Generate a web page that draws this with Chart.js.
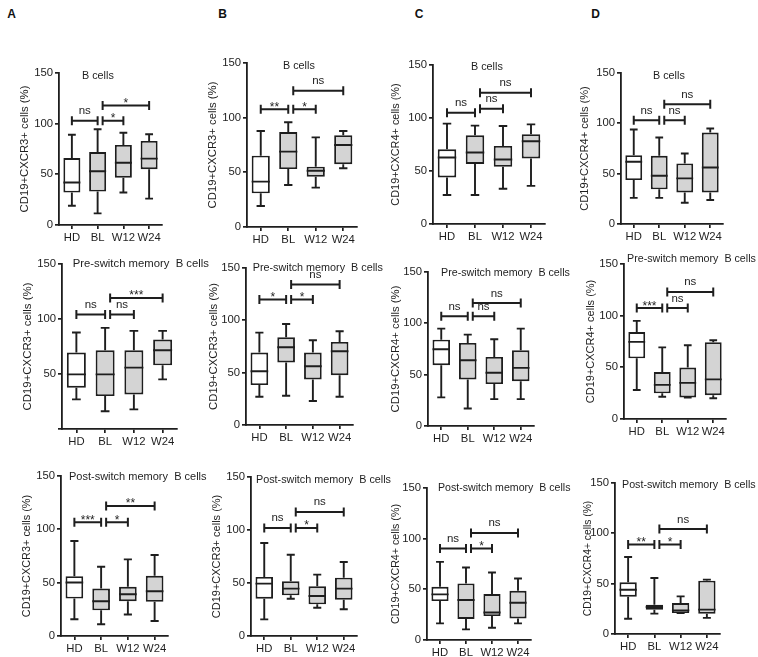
<!DOCTYPE html>
<html><head><meta charset="utf-8">
<script src="https://cdn.jsdelivr.net/npm/chart.js@4.4.1/dist/chart.umd.min.js"></script>
<style>
html,body{margin:0;padding:0;background:#fff;}
#wrap{position:relative;width:758px;height:657px;overflow:hidden;background:#fff;}
#wrap canvas{position:absolute;}
.lt{position:absolute;font:bold 12px 'Liberation Sans',Arial,sans-serif;color:#111;transform:translate(-50%,-50%);}
</style></head><body><div id="wrap"></div>
<script>
const categories = ['HD', 'BL', 'W12', 'W24'];
const yTickValues = [0, 50, 100, 150];

// five-number summaries per group: [min, q1, median, q3, max]
const boxA1 = [[19, 32, 42, 66, 89], [11.5, 33, 53, 72, 94.5], [32, 46.7, 61.5, 79, 91], [26, 55, 65.5, 83, 89.5]];
const boxB1 = [[19.2, 30.8, 41.5, 65.2, 87.8], [38.4, 53, 68.9, 86.9, 95.8], [36, 46, 51.5, 55.2, 82], [53.7, 57.4, 75, 84, 87.8]];
const boxC1 = [[27.3, 43.9, 62.7, 70.5, 94.7], [27.3, 56.7, 67.4, 83.7, 92.8], [33.2, 53.9, 60.8, 73.7, 92.5], [36, 61.8, 78, 84.7, 94]];
const boxD1 = [[26, 43.6, 61.8, 68.4, 93.8], [26, 34.4, 47.9, 67.7, 86], [21.1, 31.4, 45.3, 60.2, 70], [23.8, 31.4, 56.2, 90.9, 94.8]];
const boxA2 = [[26.9, 37.6, 49.7, 69.5, 87.7], [16.2, 29.9, 49.7, 71.6, 91.9], [17.8, 31.4, 55.8, 71.6, 89.2], [45.1, 57.9, 71.6, 81.3, 89.2]];
const boxB2 = [[27, 38.1, 51.4, 69.2, 88.3], [27.9, 59.7, 74.3, 83.8, 96.5], [22.9, 43.5, 56.2, 69.2, 81], [27, 47.6, 70.5, 79.4, 89.5]];
const boxC2 = [[27.9, 59.2, 74.8, 84.1, 94.8], [17, 45.3, 64.1, 80.9, 89], [26.2, 40.8, 51.8, 67.3, 84.5], [26.2, 43.7, 56.6, 73.8, 94.8]];
const boxD2 = [[28, 58.7, 74.6, 84.2, 95], [21.5, 24.8, 33, 45.5, 69.3], [20.8, 20.8, 35, 49.8, 71.3], [20.1, 23.1, 38.3, 74.3, 76.2]];
const boxA3 = [[15.7, 35.1, 50.2, 56.1, 89], [11, 24.1, 32.6, 44.5, 64.9], [20.1, 32.6, 39.2, 46.1, 71.8], [14.1, 32, 42, 56.4, 75.9]];
const boxB3 = [[15.7, 35.2, 49.4, 55.7, 87.7], [35.2, 38.4, 44.7, 51.6, 76.7], [26.7, 29.9, 37.7, 46.9, 57.9], [25.2, 34.3, 44.7, 55, 69.8]];
const boxC3 = [[16.4, 38.4, 45, 52.5, 77.1], [10.5, 20.7, 39.4, 55.8, 71.5], [12.1, 23.6, 27.2, 45.3, 66.6], [16.4, 21.3, 36.8, 48.6, 60.7]];
const boxD3 = [[15.2, 37, 44, 51.3, 76.5], [20.2, 24.2, 26.8, 29, 55.6], [20.8, 20.8, 23.5, 30.8, 37.4], [16, 20.2, 24.2, 53, 54]];

// significance brackets: [from group, to group, level (value units), label]
const sigA1 = [[0, 1, 103, 'ns'], [1, 2, 103, '*'], [1, 3, 118, '*']];
const sigB1 = [[0, 1, 107.7, '**'], [1, 2, 107.7, '*'], [1, 3, 124.7, 'ns']];
const sigC1 = [[0, 1, 105, 'ns'], [1, 2, 108.8, 'ns'], [1, 3, 123.9, 'ns']];
const sigD1 = [[0, 1, 103, 'ns'], [1, 2, 103, 'ns'], [1, 3, 119, 'ns']];
const sigA2 = [[0, 1, 104, 'ns'], [1, 2, 104, 'ns'], [1, 3, 119.2, '***']];
const sigB2 = [[0, 1, 120, '*'], [1, 2, 120, '*'], [1, 3, 134.3, 'ns']];
const sigC2 = [[0, 1, 107, 'ns'], [1, 2, 107, 'ns'], [1, 3, 119.7, 'ns']];
const sigD2 = [[0, 1, 107.3, '***'], [1, 2, 107.3, 'ns'], [1, 3, 123, 'ns']];
const sigA3 = [[0, 1, 106.6, '***'], [1, 2, 106.6, '*'], [1, 3, 121.9, '**']];
const sigB3 = [[0, 1, 101.9, 'ns'], [1, 2, 101.9, '*'], [1, 3, 117, 'ns']];
const sigC3 = [[0, 1, 90.3, 'ns'], [1, 2, 90.3, '*'], [1, 3, 105.7, 'ns']];
const sigD3 = [[0, 1, 89, '**'], [1, 2, 89, '*'], [1, 3, 104.3, 'ns']];

const titleTop = 'B cells';
const titleMid = 'Pre-switch memory  B cells';
const titleBot = 'Post-switch memory  B cells';
const yl3 = 'CD19+CXCR3+ cells (%)';
const yl4 = 'CD19+CXCR4+ cells (%)';

const FONT = "'Liberation Sans', Arial, sans-serif";
const INK = '#1e1e1e';
Chart.defaults.font.family = FONT;
Chart.defaults.color = INK;

// layout of each panel (page pixels)
const panels = [
  {box: boxA1, sig: sigA1, title: titleTop, yl: yl3, ax: 59,  ex: 162, y0: 225,   y150: 73,    tx: 82,    ty: 76,  ts: 10.8, yts: 11.3, yoff: 34},
  {box: boxB1, sig: sigB1, title: titleTop, yl: yl3, ax: 247, ex: 357, y0: 227,   y150: 63,    tx: 283,   ty: 66,  ts: 10.8, yts: 11.3, yoff: 34},
  {box: boxC1, sig: sigC1, title: titleTop, yl: yl4, ax: 433, ex: 545, y0: 224,   y150: 65,    tx: 471,   ty: 67,  ts: 10.8, yts: 10.9, yoff: 37},
  {box: boxD1, sig: sigD1, title: titleTop, yl: yl4, ax: 621, ex: 723, y0: 224,   y150: 73,    tx: 653,   ty: 76,  ts: 10.8, yts: 11.1, yoff: 36},
  {box: boxA2, sig: sigA2, title: titleMid, yl: yl3, ax: 62,  ex: 177, y0: 428.5, y150: 264,   tx: 72.7,  ty: 264, ts: 11.3, yts: 11.4, yoff: 34, hide0: true},
  {box: boxB2, sig: sigB2, title: titleMid, yl: yl3, ax: 246, ex: 353, y0: 425,   y150: 268,   tx: 252.7, ty: 268, ts: 10.8, yts: 11.3, yoff: 32},
  {box: boxC2, sig: sigC2, title: titleMid, yl: yl4, ax: 428, ex: 534, y0: 426,   y150: 272,   tx: 441,   ty: 273, ts: 10.7, yts: 11.3, yoff: 32},
  {box: boxD2, sig: sigD2, title: titleMid, yl: yl4, ax: 624, ex: 726, y0: 419,   y150: 264,   tx: 627,   ty: 259, ts: 10.7, yts: 11,   yoff: 33},
  {box: boxA3, sig: sigA3, title: titleBot, yl: yl3, ax: 61,  ex: 168, y0: 635.7, y150: 476,   tx: 69,    ty: 477, ts: 11,   yts: 10.9, yoff: 34},
  {box: boxB3, sig: sigB3, title: titleBot, yl: yl3, ax: 251, ex: 357, y0: 635.7, y150: 477,   tx: 256,   ty: 480, ts: 10.8, yts: 11,   yoff: 34},
  {box: boxC3, sig: sigC3, title: titleBot, yl: yl4, ax: 427, ex: 531, y0: 640,   y150: 488,   tx: 438,   ty: 488, ts: 10.6, yts: 10.7, yoff: 31},
  {box: boxD3, sig: sigD3, title: titleBot, yl: yl4, ax: 615, ex: 720, y0: 634.3, y150: 483.3, tx: 622,   ty: 485, ts: 10.7, yts: 10.3, yoff: 27}
];

const letters = [['A', 11.5, 13.5], ['B', 222.5, 13.5], ['C', 419, 13.5], ['D', 595.5, 13.5]];

const wrap = document.getElementById('wrap');
letters.forEach(l => {
  const d = document.createElement('div');
  d.className = 'lt'; d.textContent = l[0];
  d.style.left = l[1] + 'px'; d.style.top = l[2] + 'px';
  wrap.appendChild(d);
});

const PADT = 25, PADR = 60, YW = 60, XH = 30;

function boxPlugin(p, left, top) {
  return {
    id: 'boxes',
    afterDatasetsDraw(chart) {
      const ctx = chart.ctx, xs = chart.scales.x, ys = chart.scales.y;
      const meta = chart.getDatasetMeta(0);
      const Y = v => ys.getPixelForValue(v);
      ctx.save();
      ctx.strokeStyle = INK; ctx.fillStyle = INK; ctx.lineCap = 'butt';
      ctx.lineWidth = 1.9;
      p.box.forEach((b, i) => {
        const bar = meta.data[i];
        const cx = bar.x, bw = bar.width, cap = bw * 0.23;
        ctx.beginPath();
        ctx.moveTo(cx, Y(b[3])); ctx.lineTo(cx, Y(b[4]));
        ctx.moveTo(cx - cap, Y(b[4])); ctx.lineTo(cx + cap, Y(b[4]));
        ctx.moveTo(cx, Y(b[1])); ctx.lineTo(cx, Y(b[0]));
        ctx.moveTo(cx - cap, Y(b[0])); ctx.lineTo(cx + cap, Y(b[0]));
        ctx.moveTo(cx - bw / 2, Y(b[2])); ctx.lineTo(cx + bw / 2, Y(b[2]));
        ctx.stroke();
      });
      ctx.lineWidth = 2;
      p.sig.forEach(s => {
        const x1 = xs.getPixelForValue(s[0]) + (s[0] === 1 ? 5 : 0);
        const x2 = xs.getPixelForValue(s[1]);
        const y = Y(s[2]);
        ctx.beginPath();
        ctx.moveTo(x1, y); ctx.lineTo(x2, y);
        ctx.moveTo(x1, y - 4.5); ctx.lineTo(x1, y + 4.5);
        ctx.moveTo(x2, y - 4.5); ctx.lineTo(x2, y + 4.5);
        ctx.stroke();
        const star = s[3].indexOf('*') >= 0;
        ctx.font = (star ? '12px ' : '11.5px ') + FONT;
        ctx.textAlign = 'center'; ctx.textBaseline = 'alphabetic';
        ctx.fillText(s[3], (x1 + x2) / 2, star ? y + 1.5 : y - 6.5);
      });
      ctx.font = p.ts + 'px ' + FONT;
      ctx.textAlign = 'left'; ctx.textBaseline = 'middle';
      ctx.fillText(p.title, p.tx - left, p.ty - top);
      ctx.restore();
    }
  };
}

panels.forEach(p => {
  const c = document.createElement('canvas');
  const w = Math.round((p.ex - p.ax) + YW + PADR);
  const h = Math.round((p.y0 - p.y150) + PADT + XH);
  const left = p.ax - YW, top = p.y150 - PADT;
  c.width = w; c.height = h;
  c.style.left = left + 'px'; c.style.top = top + 'px';
  c.style.width = w + 'px'; c.style.height = h + 'px';
  wrap.appendChild(c);
  new Chart(c, {
    type: 'bar',
    data: {
      labels: categories,
      datasets: [{
        data: p.box.map(b => [b[1], b[3]]),
        backgroundColor: categories.map((_, i) => i === 0 ? '#ffffff' : '#d4d4d4'),
        borderColor: INK,
        borderWidth: 1.9,
        borderSkipped: false,
        barPercentage: 0.66,
        categoryPercentage: 1
      }]
    },
    options: {
      responsive: false, animation: false, devicePixelRatio: 1,
      layout: {padding: {left: 0, top: PADT, right: PADR, bottom: 0}},
      plugins: {legend: {display: false}, tooltip: {enabled: false}},
      scales: {
        x: {
          type: 'category', offset: true,
          grid: {offset: false, drawOnChartArea: false, drawTicks: true, tickLength: 4, color: INK, lineWidth: 1.7},
          border: {display: true, color: INK, width: 1.8},
          ticks: {color: INK, font: {size: 11.3}, padding: 2, maxRotation: 0, autoSkip: false},
          afterFit(s) { s.height = XH; }
        },
        y: {
          min: 0, max: 150,
          afterBuildTicks(s) { s.ticks = yTickValues.map(v => ({value: v})); },
          grid: {drawOnChartArea: false, drawTicks: true, tickLength: 4, color: INK, lineWidth: 1.7},
          border: {display: true, color: INK, width: 1.8},
          ticks: {color: INK, font: {size: 11.3}, padding: 2, callback: v => (p.hide0 && v === 0) ? '' : String(v)},
          title: {display: true, text: p.yl, color: INK, font: {size: p.yts},
                  padding: {top: YW - p.yoff - p.yts * 0.6, bottom: 0}},
          afterFit(s) { s.width = YW; }
        }
      }
    },
    plugins: [boxPlugin(p, left, top)]
  });
});
</script>
</body></html>
